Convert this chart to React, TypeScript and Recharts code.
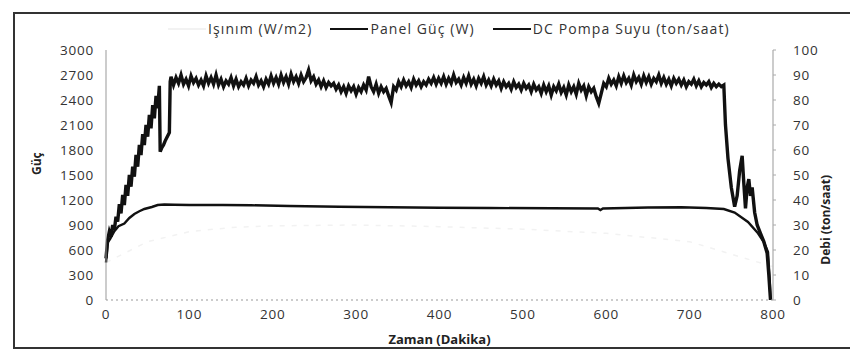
import React from "react";
import { LineChart, Line, XAxis, YAxis } from "recharts";

// Zaman (dakika) ve değerler
const panelTime = [
  0, 2, 4, 6, 8, 10, 12, 14, 16, 18, 20, 22, 24, 26, 28, 30, 32, 34, 36, 38, 40, 42, 44, 46, 48, 50,
  52, 54, 56, 58, 60, 62, 64, 65, 67, 69, 71, 73, 75, 76, 77,
  78, 81, 84, 87, 90, 93, 96, 99, 102, 105,
  108, 111, 114, 117, 120, 123, 126, 129, 132, 135,
  138, 141, 144, 147, 150, 153, 156, 159, 162, 165,
  168, 171, 174, 177, 180, 183, 186, 189, 192, 195,
  198, 201, 204, 207, 210, 213, 216, 219, 222, 225,
  228, 231, 234, 237, 240, 243, 246, 249, 252, 255,
  258, 261, 264, 267, 270, 273, 276, 279, 282, 285,
  288, 291, 294, 297, 300, 303, 306, 309, 312, 315,
  318, 321, 324, 327, 330, 333, 336, 339, 342, 345,
  348, 351, 354, 357, 360, 363, 366, 369, 372, 375,
  378, 381, 384, 387, 390, 393, 396, 399, 402, 405,
  408, 411, 414, 417, 420, 423, 426, 429, 432, 435,
  438, 441, 444, 447, 450, 453, 456, 459, 462, 465,
  468, 471, 474, 477, 480, 483, 486, 489, 492, 495,
  498, 501, 504, 507, 510, 513, 516, 519, 522, 525,
  528, 531, 534, 537, 540, 543, 546, 549, 552, 555,
  558, 561, 564, 567, 570, 573, 576, 579, 582, 585,
  588, 591, 594, 597, 600, 603, 606, 609, 612, 615,
  618, 621, 624, 627, 630, 633, 636, 639, 642, 645,
  648, 651, 654, 657, 660, 663, 666, 669, 672, 675,
  678, 681, 684, 687, 690, 693, 696, 699, 702, 705,
  708, 711, 714, 717, 720, 723, 726, 729, 732, 735,
  738, 741,
  743, 746, 750, 754, 757, 760, 763, 765, 767, 769, 771, 773, 775, 778, 781, 785, 789, 793, 795, 797,
];
const panelValues = [
  500, 720, 820, 760, 900, 840, 1000, 940, 1150, 1040, 1260, 1140, 1380, 1250, 1500, 1360, 1600,
  1480, 1740, 1600, 1860, 1740, 1990, 1860, 2100, 1960, 2220, 2060, 2340, 2180, 2450, 2300, 2570,
  1780, 1830, 1860, 1910, 1950, 1990, 2010, 2620,
  2680, 2580, 2670, 2600, 2700, 2590, 2650, 2570, 2690, 2610,
  2660, 2580, 2640, 2570, 2690, 2600, 2670, 2590, 2700, 2580,
  2650, 2560, 2630, 2590, 2670, 2570, 2650, 2560, 2620, 2580,
  2660, 2570, 2640, 2600, 2680, 2580, 2630, 2560, 2650, 2590,
  2690, 2600, 2670, 2590, 2700, 2610, 2680, 2590, 2710, 2620,
  2680, 2600, 2700, 2620, 2670, 2760, 2630, 2680, 2590, 2640,
  2560, 2630, 2550, 2610, 2570, 2600, 2530, 2580, 2500, 2560,
  2480, 2570, 2510, 2560, 2470, 2550, 2500, 2580, 2520, 2680,
  2560, 2500, 2590, 2480, 2560, 2500, 2540, 2450, 2370, 2560,
  2520, 2620, 2560, 2640, 2570, 2620, 2550, 2650, 2580, 2630,
  2560, 2620, 2580, 2650, 2600, 2670, 2590, 2660, 2600, 2680,
  2590, 2660, 2600, 2700, 2610, 2650, 2580, 2670, 2600, 2690,
  2590, 2650, 2570, 2660, 2600, 2680, 2580, 2640, 2570, 2650,
  2580, 2630, 2540, 2620, 2560, 2600, 2530, 2620, 2550, 2590,
  2520, 2600, 2540, 2580, 2500, 2590, 2520, 2560, 2480, 2580,
  2500, 2570, 2460, 2560, 2510, 2590, 2490, 2550, 2460, 2580,
  2500, 2560, 2470, 2600, 2520, 2570, 2450, 2560, 2500, 2540,
  2440, 2360, 2480, 2600, 2560, 2660, 2590, 2640, 2570, 2680,
  2600, 2690, 2610, 2660, 2580, 2700, 2620, 2670, 2590, 2690,
  2610, 2680, 2590, 2660, 2620, 2700, 2600, 2670, 2590, 2650,
  2570, 2660, 2600, 2650, 2580, 2640, 2560, 2620, 2590, 2650,
  2570, 2630, 2560, 2610, 2580, 2620, 2550, 2600, 2560, 2590,
  2560, 2580,
  2100, 1700, 1350, 1120, 1250, 1550, 1730, 1400, 1100, 1350, 1450, 1250, 1350, 1050, 900, 800, 700,
  560, 300, 0,
];

const pompaTime = [
  0, 2, 5, 10, 15, 22, 28, 34, 40, 46, 55, 62, 70, 82, 100, 140, 174, 220, 280, 340, 400, 460, 534,
  590, 593, 596, 650, 690, 720, 741, 754, 770, 782, 789, 794, 796, 797,
];
const pompaValues = [
  15, 23, 24.5, 27.5, 29.5, 30.6, 32.8, 34.4, 35.5, 36.4, 37.2, 38, 38.2, 38.1, 38, 38, 37.9, 37.6,
  37.3, 37.1, 36.9, 36.8, 36.7, 36.6, 36, 36.6, 37, 37.1, 36.8, 36.4, 35, 31.2, 26.7, 23.2, 19.2, 8,
  0,
];

const isinimTime = [0, 50, 100, 150, 200, 300, 400, 500, 600, 700, 800];
const isinimValues = [450, 700, 820, 870, 890, 900, 880, 850, 800, 700, 400];

const seriesNames = ["Işınım (W/m2)", "Panel Güç (W)", "DC Pompa Suyu (ton/saat)"];
const seriesColors = ["#f2f2f2", "#111111", "#111111"];

const xTicks = [0, 100, 200, 300, 400, 500, 600, 700, 800];
const leftTicks = [0, 300, 600, 900, 1200, 1500, 1800, 2100, 2400, 2700, 3000];
const rightTicks = [0, 10, 20, 30, 40, 50, 60, 70, 80, 90, 100];

const panelData = panelTime.map((t, i) => ({ t, v: panelValues[i] }));
const pompaData = pompaTime.map((t, i) => ({ t, v: pompaValues[i] }));
const isinimData = isinimTime.map((t, i) => ({ t, v: isinimValues[i] }));

const font = "'Open Sans', sans-serif";
const tick = { fill: "#333", fontSize: 13.5, fontFamily: font, letterSpacing: 0.8 };

export default function App() {
  return (
    <div style={{ position: "absolute", left: 0, top: 0, width: 850, height: 362, background: "#fff" }}>
      {/* dış çerçeve */}
      <div style={{ position: "absolute", left: 13, top: 12, width: 850, height: 333, borderTop: "2px solid #333", borderLeft: "2px solid #333", borderBottom: "2px solid #333" }} />
      <div style={{ position: "absolute", left: 168, top: 19, display: "flex", alignItems: "center", fontFamily: font, fontSize: 14, letterSpacing: 1.1, color: "#333", whiteSpace: "nowrap" }}>
        {seriesNames.map((n, i) => (
          <span key={n} style={{ display: "flex", alignItems: "center", marginRight: 18 }}>
            <svg width={38} height={10} style={{ marginRight: 2 }}>
              <line x1={0} y1={5} x2={38} y2={5} stroke={seriesColors[i]} strokeWidth={2} />
            </svg>
            {n}
          </span>
        ))}
      </div>
      <LineChart width={850} height={362} margin={{ top: 50, right: 17, bottom: 17, left: 16 }}>
        <XAxis
          dataKey="t"
          type="number"
          domain={[0, 800]}
          ticks={xTicks}
          tick={tick}
          tickLine={false}
          tickSize={0}
          tickMargin={9}
          height={45}
          axisLine={{ stroke: "#999", strokeDasharray: "2 3" }}
          label={{ value: "Zaman (Dakika)", position: "insideBottom", offset: 1, fill: "#222", fontSize: 13, fontWeight: 700, fontFamily: font }}
        />
        <XAxis xAxisId="top" orientation="top" dataKey="t" type="number" domain={[0, 800]} tick={false} tickLine={false} height={0} axisLine={{ stroke: "#999" }} />
        <YAxis
          yAxisId="left"
          type="number"
          domain={[0, 3000]}
          ticks={leftTicks}
          tick={tick}
          tickLine={false}
          tickSize={0}
          tickMargin={12}
          width={90}
          axisLine={{ stroke: "#999" }}
          label={{ value: "Güç", angle: -90, position: "insideLeft", offset: 21, fill: "#222", fontSize: 12, fontWeight: 700, fontFamily: font }}
        />
        <YAxis
          yAxisId="right"
          orientation="right"
          type="number"
          domain={[0, 100]}
          ticks={rightTicks}
          tick={tick}
          tickLine={{ stroke: "#aaa" }}
          tickSize={3}
          tickMargin={17}
          width={60}
          axisLine={{ stroke: "#999" }}
          label={{ value: "Debi (ton/saat)", angle: -90, position: "insideRight", offset: 7, fill: "#222", fontSize: 12, fontWeight: 700, fontFamily: font }}
        />
        <Line data={isinimData} yAxisId="left" dataKey="v" name={seriesNames[0]} stroke={seriesColors[0]} strokeWidth={1.5} strokeDasharray="5 7" dot={false} isAnimationActive={false} />
        <Line data={panelData} yAxisId="left" dataKey="v" name={seriesNames[1]} stroke={seriesColors[1]} strokeWidth={3.4} dot={false} isAnimationActive={false} />
        <Line data={pompaData} yAxisId="right" dataKey="v" name={seriesNames[2]} stroke={seriesColors[2]} strokeWidth={2.4} dot={false} isAnimationActive={false} />
      </LineChart>
    </div>
  );
}
